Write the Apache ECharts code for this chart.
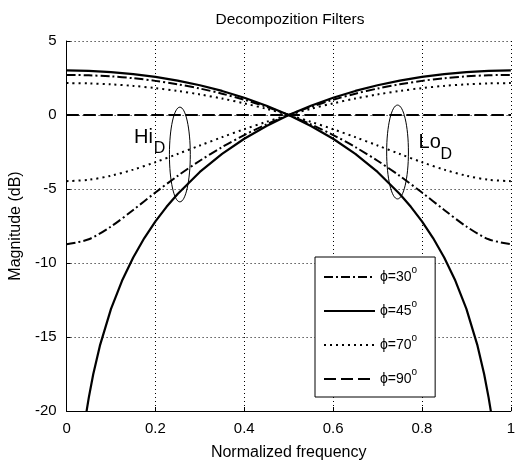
<!DOCTYPE html>
<html><head><meta charset="utf-8">
<script src="https://cdn.jsdelivr.net/npm/echarts@6/dist/echarts.min.js"></script>
<style>html,body{margin:0;padding:0;background:#fff}#c{width:518px;height:466px}</style>
</head><body><div id="c"></div>
<script>
const FONT = '"Liberation Sans", Arial, Helvetica, sans-serif';
const xTicks = [0, 0.2, 0.4, 0.6, 0.8, 1];
const yTicks = [-20, -15, -10, -5, 0, 5];
const legendNames = ['ϕ=30', 'ϕ=45', 'ϕ=70', 'ϕ=90'];

const freq = [0,0.05,0.1,0.15,0.2,0.25,0.3,0.35,0.4,0.45,0.5,0.55,0.6,0.65,0.7,0.75,0.8,0.85,0.9,0.95,1];
const lo30 = [2.709,2.684,2.609,2.484,2.306,2.075,1.787,1.440,1.030,0.552,0,-0.632,-1.353,-2.169,-3.090,-4.116,-5.238,-6.414,-7.536,-8.397,-8.730];
const hi30 = [-8.730,-8.397,-7.536,-6.414,-5.238,-4.116,-3.090,-2.169,-1.353,-0.632,0,0.552,1.030,1.440,1.787,2.075,2.306,2.484,2.609,2.684,2.709];
const lo70 = [2.156,2.135,2.072,1.967,1.819,1.627,1.392,1.112,0.787,0.416,0,-0.460,-0.962,-1.499,-2.061,-2.632,-3.188,-3.693,-4.104,-4.376,-4.471];
const hi70 = [-4.471,-4.376,-4.104,-3.693,-3.188,-2.632,-2.061,-1.499,-0.962,-0.460,0,0.416,0.787,1.112,1.392,1.627,1.819,1.967,2.072,2.135,2.156];
const lo90 = [0,0,0,0,0,0,0,0,0,0,0,0,0,0,0,0,0,0,0,0,0];
const hi90 = [0,0,0,0,0,0,0,0,0,0,0,0,0,0,0,0,0,0,0,0,0];

const freqLo45 = [0,0.05,0.1,0.15,0.2,0.25,0.3,0.35,0.4,0.45,0.5,0.55,0.6,0.65,0.7,0.75,0.775,0.8,0.825,0.85,0.875,0.9,0.925,0.94,0.95,0.955,0.96];
const lo45 = [3.010,2.984,2.903,2.767,2.574,2.323,2.008,1.626,1.169,0.631,0,-0.739,-1.605,-2.628,-3.849,-5.333,-6.205,-7.190,-8.316,-9.626,-11.185,-13.103,-15.586,-17.518,-19.097,-20.010,-21.030];
const freqHi45 = [0.04,0.045,0.05,0.06,0.075,0.1,0.125,0.15,0.175,0.2,0.225,0.25,0.3,0.35,0.4,0.45,0.5,0.55,0.6,0.65,0.7,0.75,0.8,0.85,0.9,0.95,1];
const hi45 = [-21.030,-20.010,-19.097,-17.518,-15.586,-13.103,-11.185,-9.626,-8.316,-7.190,-6.205,-5.333,-3.849,-2.628,-1.605,-0.739,0,0.631,1.169,1.626,2.008,2.323,2.574,2.767,2.903,2.984,3.010];

// annotation positions in data units
const hiEllipse = {x: 0.255, y: -2.67, rx: 0.0235, ry: 3.2};
const loEllipse = {x: 0.745, y: -2.5, rx: 0.0245, ry: 3.17};
const hiMain = {x: 0.1518, y: -1.50}, hiSub = {x: 0.1964, y: -2.29};
const loMain = {x: 0.7924, y: -1.85}, loSub = {x: 0.8415, y: -2.65};

function pairs(xs, ys) { return xs.map((x, i) => [x, ys[i]]); }

const styles = {
  'ϕ=30': {type: [9, 3, 2, 3], width: 2},
  'ϕ=45': {type: 'solid', width: 2.2},
  'ϕ=70': {type: [2, 4], width: 2},
  'ϕ=90': {type: [12, 5], width: 2}
};
function mk(name, xs, ys, z, smooth) {
  return {
    type: 'line', name: name, data: pairs(xs, ys), symbol: 'none', showSymbol: false,
    smooth: smooth, clip: true, z: z, animation: false,
    lineStyle: Object.assign({color: '#000'}, styles[name]),
    itemStyle: {color: '#000'}
  };
}

const chart = echarts.init(document.getElementById('c'), null, {renderer: 'canvas'});
const gridL = 66, gridR = 4, gridT = 41, gridB = 51;
const option = {
  animation: false,
  backgroundColor: '#fff',
  textStyle: {fontFamily: FONT},
  grid: {left: gridL, right: gridR, top: gridT, bottom: gridB, containLabel: false},
  xAxis: {
    type: 'value', min: xTicks[0], max: xTicks[xTicks.length - 1], interval: 0.2,
    name: 'Normalized frequency', nameLocation: 'middle', nameGap: 34,
    nameTextStyle: {color: '#000', fontSize: 16, fontFamily: FONT},
    axisLine: {onZero: false, lineStyle: {color: '#000', width: 1}},
    axisTick: {inside: true, length: 4, lineStyle: {color: '#000'}},
    axisLabel: {color: '#000', fontSize: 15, fontFamily: FONT, margin: 10,
      formatter: v => String(v)},
    splitLine: {show: true, lineStyle: {color: '#000', type: [1, 3], width: 1}}
  },
  yAxis: {
    type: 'value', min: yTicks[0], max: yTicks[yTicks.length - 1], interval: 5,
    name: 'Magnitude (dB)', nameLocation: 'middle', nameGap: 37, nameRotate: 90,
    nameTextStyle: {color: '#000', fontSize: 16, fontFamily: FONT},
    axisLine: {lineStyle: {color: '#000', width: 1}},
    axisTick: {inside: true, length: 4, lineStyle: {color: '#000'}},
    axisLabel: {color: '#000', fontSize: 15, fontFamily: FONT, margin: 10},
    splitLine: {show: true, lineStyle: {color: '#000', type: [1, 3], width: 1}}
  },
  legend: {
    orient: 'vertical', left: 315, top: 257,
    data: legendNames,
    itemWidth: 51, itemHeight: 14, itemGap: 15,
    padding: [8, 18, 11, 8],
    borderColor: '#000', borderWidth: 1, backgroundColor: '#fff',
    itemStyle: {opacity: 0},
    formatter: n => '{a|' + n + '}{o|o}',
    textStyle: {color: '#000', fontSize: 14, fontFamily: FONT,
      rich: {
        a: {fontSize: 14, fontFamily: FONT, color: '#000', lineHeight: 24, verticalAlign: 'middle'},
        o: {fontSize: 10, fontFamily: FONT, color: '#000', lineHeight: 10, verticalAlign: 'top'}
      }}
  },
  series: [
    mk('ϕ=90', freq, lo90, 2, false),
    mk('ϕ=90', freq, hi90, 2, false),
    mk('ϕ=70', freq, lo70, 3, 0.3),
    mk('ϕ=70', freq, hi70, 3, 0.3),
    mk('ϕ=30', freq, lo30, 4, 0.3),
    mk('ϕ=30', freq, hi30, 4, 0.3),
    mk('ϕ=45', freqLo45, lo45, 5, false),
    mk('ϕ=45', freqHi45, hi45, 5, false)
  ]
};
chart.setOption(option);

function P(x, y) { return chart.convertToPixel({gridIndex: 0}, [x, y]); }
function ell(e) {
  const c = P(e.x, e.y), a = P(e.x + e.rx, e.y + e.ry);
  return {type: 'ellipse', z: 10, shape: {cx: c[0], cy: c[1], rx: Math.abs(a[0] - c[0]), ry: Math.abs(a[1] - c[1])},
    style: {fill: 'none', stroke: '#000', lineWidth: 1}};
}
function txt(l, s, size) {
  const p = P(l.x, l.y);
  return {type: 'text', z: 10, x: p[0], y: p[1],
    style: {text: s, font: size + 'px ' + FONT, fill: '#000', textAlign: 'left', align: 'left',
      textVerticalAlign: 'middle', verticalAlign: 'middle'}};
}
const plotW = 518 - gridL - gridR;
chart.setOption({graphic: [
  ell(hiEllipse), ell(loEllipse),
  txt(hiMain, 'Hi', 20), txt(hiSub, 'D', 16), txt(loMain, 'Lo', 20), txt(loSub, 'D', 16),
  {type: 'text', x: gridL + plotW / 2, y: 20, z: 10,
   style: {text: 'Decompozition Filters', font: '15.5px ' + FONT, fill: '#000', textAlign: 'center', textVerticalAlign: 'middle', align: 'center', verticalAlign: 'middle'}}
]});
</script></body></html>
